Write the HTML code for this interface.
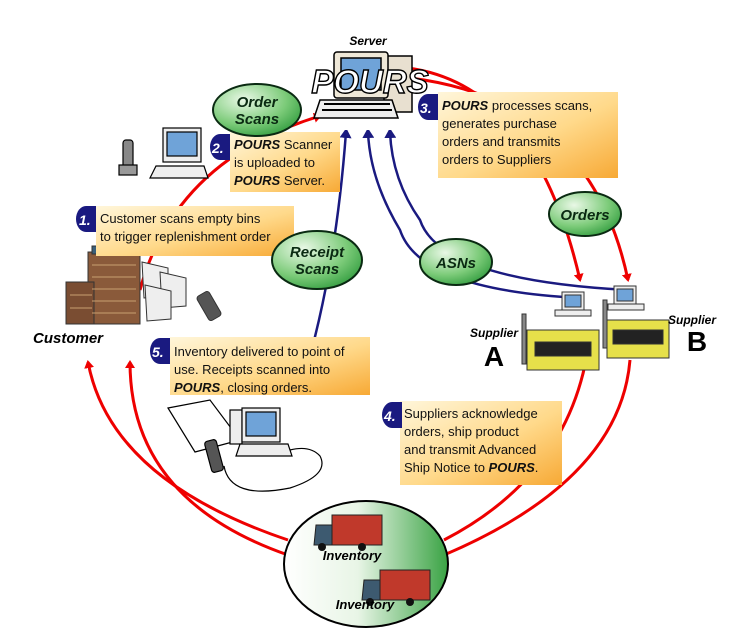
<!DOCTYPE html>
<html><head><meta charset="utf-8"><style>
html,body{margin:0;padding:0;background:#fff}
svg{display:block}
text{font-family:"Liberation Sans",sans-serif}
.b{font-size:13px;fill:#111}
.bi{font-weight:bold;font-style:italic}
.lbl{font-weight:bold;font-style:italic;font-size:15px;fill:#0a2a12}
</style></head><body>
<svg width="744" height="644" viewBox="0 0 744 644" xmlns="http://www.w3.org/2000/svg">
<defs>
<linearGradient id="box" x1="0" y1="0" x2="1" y2="1">
<stop offset="0" stop-color="#fff6da"/><stop offset="0.55" stop-color="#ffd98a"/><stop offset="1" stop-color="#f7a935"/>
</linearGradient>
<radialGradient id="ell" cx="0.35" cy="0.3" r="0.8">
<stop offset="0" stop-color="#e9f8e6"/><stop offset="0.6" stop-color="#7ccb79"/><stop offset="1" stop-color="#2e9a3c"/>
</radialGradient>
<linearGradient id="inv" x1="0" y1="0" x2="1" y2="0">
<stop offset="0" stop-color="#fff"/><stop offset="0.45" stop-color="#e8f5e6"/><stop offset="1" stop-color="#3aa344"/>
</linearGradient>
<marker id="ar" markerWidth="8" markerHeight="10" refX="6" refY="5" orient="auto" markerUnits="userSpaceOnUse"><path d="M0,0 L8,5 L0,10 z" fill="#e00"/></marker>
<marker id="ab" markerWidth="8" markerHeight="12" refX="6" refY="6" orient="auto" markerUnits="userSpaceOnUse"><path d="M0,0 L10,6 L0,12 z" fill="#1a1a80"/></marker>
</defs>

<!-- red arcs -->
<g fill="none" stroke="#e00" stroke-width="3">
<path d="M140,290 Q175,160 320,116" marker-end="url(#ar)"/>
<path d="M408,68 Q535,85 580,280" marker-end="url(#ar)"/>
<path d="M410,78 Q590,100 628,280" marker-end="url(#ar)"/>
<path d="M288,540 Q110,480 88,362" marker-end="url(#ar)"/>
<path d="M288,555 Q130,500 130,362" marker-end="url(#ar)"/>
<path d="M444,540 Q560,480 585,365"/>
<path d="M444,555 Q620,480 630,360"/>
</g>
<!-- blue lines -->
<g fill="none" stroke="#1a1a80" stroke-width="2.5">
<path d="M300,390 Q335,280 346,132" marker-end="url(#ab)"/>
<path d="M580,298 Q420,290 400,230 Q370,180 368,132" marker-end="url(#ab)"/>
<path d="M628,290 Q440,280 420,220 Q392,180 390,132" marker-end="url(#ab)"/>
</g>

<!-- server computer -->
<g stroke="#000" stroke-width="1.5">
<rect x="384" y="56" width="28" height="56" fill="#e8e0d0"/>
<rect x="334" y="52" width="54" height="46" rx="3" fill="#efe8d8"/>
<rect x="341" y="58" width="40" height="32" fill="#6fa3d8"/>
<path d="M320,100 L392,100 L398,118 L314,118 z" fill="#eee"/>
<path d="M324,104 L390,104 M322,110 L392,110" stroke-width="2"/>
</g>
<text x="368" y="45" text-anchor="middle" class="bi" font-size="12">Server</text>
<text x="370" y="93" text-anchor="middle" font-size="33" font-weight="bold" font-style="italic" fill="#fff" stroke="#000" stroke-width="1.4">POURS</text>

<!-- customer side computer & phone -->
<g stroke="#000" stroke-width="1.2">
<rect x="123" y="140" width="10" height="30" rx="3" fill="#888"/>
<rect x="119" y="165" width="18" height="10" fill="#999"/>
<rect x="163" y="128" width="38" height="34" fill="#eee"/>
<rect x="167" y="132" width="30" height="24" fill="#6fa3d8"/>
<path d="M156,166 L204,166 L208,178 L150,178 z" fill="#eee"/>
</g>

<!-- building & bins -->
<g stroke="#333" stroke-width="1">
<rect x="88" y="252" width="52" height="72" fill="#8a5a3a"/>
<rect x="66" y="282" width="28" height="42" fill="#7a4d32"/>
<rect x="92" y="246" width="44" height="8" fill="#3a5f7a"/>
<path d="M142,262 l26,6 v28 l-24,2 z" fill="#eee"/>
<path d="M160,272 l26,6 v28 l-24,2 z" fill="#eee"/>
<path d="M145,285 l26,6 v28 l-24,2 z" fill="#eee"/>
<rect x="202" y="292" width="14" height="28" rx="3" transform="rotate(-30 209 306)" fill="#555"/>
</g>
<g stroke="#c8a070" stroke-width="1">
<path d="M92,265 H136 M92,277 H136 M92,289 H136 M92,301 H136 M92,313 H136 M70,295 H92 M70,308 H92"/>
</g>

<!-- suppliers -->
<g stroke="#333" stroke-width="1">
<rect x="527" y="330" width="72" height="40" fill="#e6e04a"/>
<rect x="607" y="320" width="62" height="38" fill="#e6e04a"/>
<g fill="#222"><rect x="535" y="342" width="56" height="14"/><rect x="613" y="330" width="50" height="14"/></g>
<rect x="522" y="314" width="4" height="50" fill="#888"/>
<rect x="603" y="300" width="4" height="48" fill="#888"/>
<rect x="562" y="292" width="22" height="18" fill="#eee"/><rect x="565" y="295" width="16" height="12" fill="#6fa3d8"/>
<rect x="555" y="310" width="36" height="6" fill="#eee"/>
<rect x="614" y="286" width="22" height="18" fill="#eee"/><rect x="617" y="289" width="16" height="12" fill="#6fa3d8"/>
<rect x="608" y="304" width="36" height="6" fill="#eee"/>
</g>
<text x="494" y="337" text-anchor="middle" class="bi" font-size="12">Supplier</text>
<text x="494" y="366" text-anchor="middle" font-weight="bold" font-size="28">A</text>
<text x="692" y="324" text-anchor="middle" class="bi" font-size="12">Supplier</text>
<text x="697" y="351" text-anchor="middle" font-weight="bold" font-size="28">B</text>
<text x="68" y="343" text-anchor="middle" class="bi" font-size="15">Customer</text>

<!-- receipt computer -->
<g stroke="#000" stroke-width="1.2">
<path d="M168,408 L210,400 L240,440 L195,452 z" fill="#fff"/>
<rect x="230" y="410" width="12" height="34" fill="#eee"/>
<rect x="242" y="408" width="38" height="34" fill="#eee"/><rect x="246" y="412" width="30" height="24" fill="#6fa3d8"/>
<path d="M240,444 L288,444 L292,456 L236,456 z" fill="#eee"/>
<rect x="208" y="440" width="12" height="32" rx="3" transform="rotate(-15 214 456)" fill="#555"/>
<path d="M224,466 Q230,500 290,488 Q330,475 320,456 Q310,445 290,450" fill="none"/>
</g>

<!-- boxes -->
<g fill="url(#box)">
<rect x="96" y="206" width="198" height="50"/>
<rect x="230" y="132" width="110" height="60"/>
<rect x="438" y="92" width="180" height="86"/>
<rect x="170" y="337" width="200" height="58"/>
<rect x="400" y="401" width="162" height="84"/>
</g>
<g fill="#1a1a80">
<path d="M86,206 h10 v26 h-10 a10,13 0 0 1 0,-26z"/>
<path d="M220,134 h10 v26 h-10 a10,13 0 0 1 0,-26z"/>
<path d="M428,94 h10 v26 h-10 a10,13 0 0 1 0,-26z"/>
<path d="M160,338 h10 v26 h-10 a10,13 0 0 1 0,-26z"/>
<path d="M392,402 h10 v26 h-10 a10,13 0 0 1 0,-26z"/>
</g>
<g fill="#fff" font-weight="bold" font-style="italic" font-size="14">
<text x="79" y="225">1.</text><text x="212" y="153">2.</text><text x="420" y="113">3.</text><text x="152" y="357">5.</text><text x="384" y="421">4.</text>
</g>
<text class="b"><tspan x="100" y="223">Customer scans empty bins</tspan><tspan x="100" y="241">to trigger replenishment order</tspan></text>
<text class="b"><tspan x="234" y="149"><tspan class="bi">POURS</tspan> Scanner</tspan><tspan x="234" y="167">is uploaded to</tspan><tspan x="234" y="185"><tspan class="bi">POURS</tspan> Server.</tspan></text>
<text class="b"><tspan x="442" y="110"><tspan class="bi">POURS</tspan> processes scans,</tspan><tspan x="442" y="128">generates purchase</tspan><tspan x="442" y="146">orders and transmits</tspan><tspan x="442" y="164">orders to Suppliers</tspan></text>
<text class="b"><tspan x="174" y="356">Inventory delivered to point of</tspan><tspan x="174" y="374">use. Receipts scanned into</tspan><tspan x="174" y="392"><tspan class="bi">POURS</tspan>, closing orders.</tspan></text>
<text class="b"><tspan x="404" y="418">Suppliers acknowledge</tspan><tspan x="404" y="436">orders, ship product</tspan><tspan x="404" y="454">and transmit Advanced</tspan><tspan x="404" y="472">Ship Notice to <tspan class="bi">POURS</tspan>.</tspan></text>

<!-- ellipses -->
<g stroke="#0a2a12" stroke-width="2" fill="url(#ell)">
<ellipse cx="257" cy="110" rx="44" ry="26"/>
<ellipse cx="317" cy="260" rx="45" ry="29"/>
<ellipse cx="456" cy="262" rx="36" ry="23"/>
<ellipse cx="585" cy="214" rx="36" ry="22"/>
</g>
<text x="257" y="107" text-anchor="middle" class="lbl">Order</text><text x="257" y="124" text-anchor="middle" class="lbl">Scans</text>
<text x="317" y="257" text-anchor="middle" class="lbl">Receipt</text><text x="317" y="274" text-anchor="middle" class="lbl">Scans</text>
<text x="456" y="268" text-anchor="middle" class="lbl">ASNs</text>
<text x="585" y="220" text-anchor="middle" class="lbl">Orders</text>

<!-- inventory -->
<ellipse cx="366" cy="564" rx="82" ry="63" fill="url(#inv)" stroke="#000" stroke-width="2"/>
<g stroke="#222" stroke-width="1">
<rect x="332" y="515" width="50" height="30" fill="#c0392b"/>
<path d="M316,525 h16 v20 h-18 z" fill="#3d5a70"/>
<rect x="380" y="570" width="50" height="30" fill="#c0392b"/>
<path d="M364,580 h16 v20 h-18 z" fill="#3d5a70"/>
</g>
<g fill="#111"><circle cx="322" cy="547" r="4"/><circle cx="362" cy="547" r="4"/><circle cx="370" cy="602" r="4"/><circle cx="410" cy="602" r="4"/></g>
<text x="352" y="560" text-anchor="middle" class="bi" font-size="13">Inventory</text>
<text x="365" y="609" text-anchor="middle" class="bi" font-size="13">Inventory</text>
</svg>
</body></html>
